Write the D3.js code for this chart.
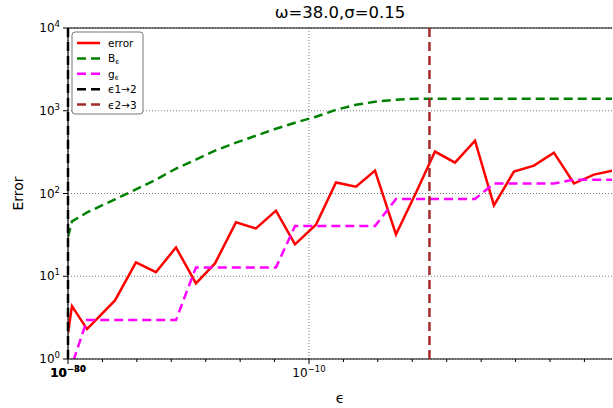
<!DOCTYPE html>
<html>
<head>
<meta charset="utf-8">
<script src="https://cdn.jsdelivr.net/npm/d3@7"></script>
<style>
  body { margin: 0; background: #fff; }
  text { font-family: "DejaVu Sans", sans-serif; }
</style>
</head>
<body>
<div id="chart"></div>
<script>
// Werte (x als Exponent von epsilon)
const epsExp = [-30, -29.67, -28.42, -26.10, -24.36, -22.70, -21.04, -19.38, -17.80, -16.06,
  -14.40, -12.74, -11.16, -9.42, -7.76, -6.10, -4.52, -2.78, -1.12, 0.46,
  2.12, 3.78, 5.35, 7.01, 8.67, 10.33, 11.99, 13.65, 15.23];
const errorVals = [2.06, 4.35, 2.3, 5.1, 14.7, 11.2, 22.3, 8.2, 14.3, 44.8,
  37.8, 62, 24.3, 42, 136, 121, 189, 32, 102, 321,
  236, 435, 72, 184, 217, 312, 132, 169, 189];
const bVals = [30, 46, 59, 85, 112, 147, 200, 257, 330, 411,
  500, 607, 717, 847, 1028, 1181, 1284, 1358, 1395, 1395,
  1395, 1395, 1395, 1395, 1395, 1395, 1395, 1395, 1395];
const gVals = [0.3, 0.85, 2.95, 2.95, 2.95, 2.95, 2.95, 12.8, 12.8, 12.8,
  12.8, 12.8, 40.4, 40.4, 40.4, 40.4, 40.4, 86, 86, 86,
  86, 86, 132, 132, 132, 132, 147, 147, 147];
const eps12Exp = -30;
const eps23Exp = 0;
const xMajorTicks = [-30, -10];
const xMinorTicks = [-27.14, -24.29, -21.43, -18.57, -15.71, -12.86, -7.14, -4.29, -1.43,
  1.43, 4.29, 7.14, 10, 12.86];
const yTicks = [1, 10, 100, 1000, 10000];
const title = "ω=38.0,σ=0.15";

const width = 613, height = 408;
const margin = { top: 28, right: 1, bottom: 49, left: 68 };

const svg = d3.select("#chart").append("svg")
  .attr("width", width).attr("height", height);

// Skalen
const x = d3.scaleLinear().domain([-30, 15.15]).range([margin.left, width - margin.right]);
const y = d3.scaleLog().domain([1, 1e4]).range([height - margin.bottom, margin.top]);

svg.append("defs").append("clipPath").attr("id", "clip")
  .append("rect")
  .attr("x", margin.left).attr("y", margin.top)
  .attr("width", width - margin.right - margin.left)
  .attr("height", height - margin.bottom - margin.top);

// Gitter
const grid = svg.append("g")
  .attr("stroke", "#555").attr("stroke-width", 0.8).attr("stroke-dasharray", "1,2");
grid.selectAll(".gy").data(yTicks).join("line")
  .attr("x1", x.range()[0]).attr("x2", x.range()[1])
  .attr("y1", d => y(d)).attr("y2", d => y(d));
grid.selectAll(".gx").data(xMajorTicks).join("line")
  .attr("x1", d => x(d)).attr("x2", d => x(d))
  .attr("y1", y.range()[0]).attr("y2", y.range()[1]);

// Linien
const plot = svg.append("g").attr("clip-path", "url(#clip)");
const idx = d3.range(epsExp.length);
const lineOf = vals => d3.line().x(i => x(epsExp[i])).y(i => y(vals[i]));

plot.append("path").datum(idx)
  .attr("fill", "none").attr("stroke", "#ff0000").attr("stroke-width", 2.5)
  .attr("stroke-linejoin", "miter")
  .attr("d", lineOf(errorVals));
plot.append("path").datum(idx)
  .attr("fill", "none").attr("stroke", "#008000").attr("stroke-width", 2.5)
  .attr("stroke-dasharray", "9,5")
  .attr("d", lineOf(bVals));
plot.append("path").datum(idx)
  .attr("fill", "none").attr("stroke", "#ff00ff").attr("stroke-width", 2.5)
  .attr("stroke-dasharray", "9,5")
  .attr("d", lineOf(gVals));

// Achsenlinien
svg.append("line")
  .attr("x1", x.range()[0]).attr("x2", x.range()[1])
  .attr("y1", y.range()[0]).attr("y2", y.range()[0])
  .attr("stroke", "#000").attr("stroke-width", 1.2);
svg.append("line")
  .attr("x1", x.range()[0]).attr("x2", x.range()[1])
  .attr("y1", y.range()[1]).attr("y2", y.range()[1])
  .attr("stroke", "#000").attr("stroke-width", 1.2);
svg.append("line")
  .attr("x1", x.range()[0]).attr("x2", x.range()[0])
  .attr("y1", y.range()[0]).attr("y2", y.range()[1])
  .attr("stroke", "#000").attr("stroke-width", 1.2);

// Vertikale Linien (über den Achsen)
const vlines = svg.append("g");
vlines.append("line")
  .attr("x1", x(eps12Exp)).attr("x2", x(eps12Exp))
  .attr("y1", y.range()[0]).attr("y2", y.range()[1])
  .attr("stroke", "#000").attr("stroke-width", 2.5).attr("stroke-dasharray", "9,5");
vlines.append("line")
  .attr("x1", x(eps23Exp)).attr("x2", x(eps23Exp))
  .attr("y1", y.range()[0]).attr("y2", y.range()[1])
  .attr("stroke", "#a52a2a").attr("stroke-width", 2.5).attr("stroke-dasharray", "9,5");

// Ticks
const yb = y.range()[0];
svg.append("g").selectAll("line").data(xMajorTicks).join("line")
  .attr("x1", d => x(d)).attr("x2", d => x(d))
  .attr("y1", yb).attr("y2", yb + 5).attr("stroke", "#000");
svg.append("g").selectAll("line").data(xMinorTicks).join("line")
  .attr("x1", d => x(d)).attr("x2", d => x(d))
  .attr("y1", yb).attr("y2", yb + 3).attr("stroke", "#000");
svg.append("g").selectAll("line").data(yTicks).join("line")
  .attr("x1", margin.left - 5).attr("x2", margin.left)
  .attr("y1", d => y(d)).attr("y2", d => y(d)).attr("stroke", "#000");

// Beschriftung mit Hochzahl
function powLabel(g, exp, ax, ay, anchor) {
  const t = g.append("text").attr("x", ax).attr("y", ay)
    .attr("text-anchor", anchor).attr("font-size", 12).attr("fill", "#000");
  t.append("tspan").text("10");
  t.append("tspan").attr("font-size", 8.5).attr("dy", -5).text(exp);
  return t;
}
const yLab = svg.append("g");
yTicks.forEach(d => powLabel(yLab, String(Math.round(Math.log10(d))), margin.left - 8, y(d) + 4, "end"));

const xLab = svg.append("g");
powLabel(xLab, "−30", x(-30), yb + 18, "middle").attr("font-weight", "bold");
powLabel(xLab, "−80", x(-30), yb + 18, "middle").attr("font-weight", "bold");
powLabel(xLab, "−10", x(-10), yb + 18, "middle");

// Titel und Achsentitel
svg.append("text").attr("x", 340).attr("y", 18)
  .attr("text-anchor", "middle").attr("font-size", 16.5).text(title);
svg.append("text").attr("x", 340).attr("y", 403)
  .attr("text-anchor", "middle").attr("font-size", 14).text("ϵ");
svg.append("text")
  .attr("transform", `translate(23,${(y.range()[0] + y.range()[1]) / 2}) rotate(-90)`)
  .attr("text-anchor", "middle").attr("font-size", 14).text("Error");

// Legende
const legendItems = [
  { label: "error", sub: null, color: "#ff0000", dash: null },
  { label: "B", sub: "ϵ", color: "#008000", dash: "9,5" },
  { label: "g", sub: "ϵ", color: "#ff00ff", dash: "9,5" },
  { label: "ϵ1→2", sub: null, color: "#000000", dash: "9,5" },
  { label: "ϵ2→3", sub: null, color: "#a52a2a", dash: "9,5" }
];
const leg = svg.append("g").attr("transform", "translate(72,32)");
leg.append("rect").attr("width", 71).attr("height", 82).attr("rx", 3)
  .attr("fill", "#fff").attr("fill-opacity", 0.9)
  .attr("stroke", "#777").attr("stroke-width", 1);
const rows = leg.selectAll("g").data(legendItems).join("g")
  .attr("transform", (d, i) => `translate(0,${11 + i * 15.4})`);
rows.append("line").attr("x1", 5).attr("x2", 28)
  .attr("stroke", d => d.color).attr("stroke-width", 2.5)
  .attr("stroke-dasharray", d => d.dash);
const lt = rows.append("text").attr("x", 36).attr("y", 4)
  .attr("font-size", 10.5).attr("fill", "#000");
lt.append("tspan").text(d => d.label);
lt.filter(d => d.sub).append("tspan").attr("font-size", 7).attr("dy", 2).text(d => d.sub);
</script>
</body>
</html>
